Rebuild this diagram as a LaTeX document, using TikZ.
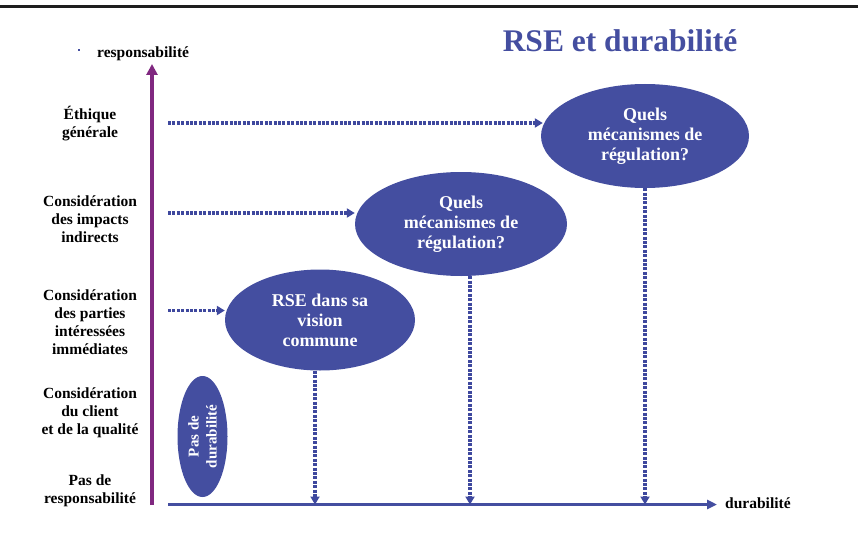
\documentclass[tikz,border=0pt]{standalone}
\usepackage{fontspec}
\setmainfont{Liberation Serif}
\usetikzlibrary{shapes.geometric,arrows.meta,calc}
\definecolor{ellblue}{RGB}{68,78,160}
\definecolor{dotblue}{RGB}{62,72,158}
\definecolor{axpurple}{RGB}{128,40,128}
\definecolor{topline}{RGB}{30,30,30}
\begin{document}
\begin{tikzpicture}[x=1pt,y=-1pt,
  bubble/.style={ellipse, fill=ellblue, text=white, inner sep=0pt,
    font=\bfseries\fontsize{18}{20}\selectfont, align=center},
  lvl/.style={font=\bfseries\fontsize{15.5}{18}\selectfont, align=center, inner sep=0pt},
  dotarrow/.style={draw=dotblue, line width=3.4pt, dash pattern=on 3pt off 1.4pt,
    -{Triangle[length=8pt,width=9pt]}},
  axlabel/.style={font=\bfseries\fontsize{15.5}{18}\selectfont, inner sep=0pt}]
\useasboundingbox (0,0) rectangle (858,532);
% top rule
\coordinate (tl) at (0,6.5);
\coordinate (tr) at (858,6.5);
\draw[topline, line width=3.5pt] (tl) -- (tr);
% title
\node[text=ellblue, font=\bfseries\fontsize{31.5}{36}\selectfont, inner sep=0pt] (title) at (620,41) {RSE et durabilit\'e};
% axes
\coordinate (o) at (152,505);
\coordinate (ytop) at (152,64);
\coordinate (xo) at (168,504.5);
\coordinate (xend) at (717,504.5);
\draw[axpurple, line width=4.5pt, -{Triangle[length=11pt,width=11pt]}] (o) -- (ytop);
\draw[ellblue, line width=3.6pt, -{Triangle[length=10pt,width=9pt]}] (xo) -- (xend);
\fill[ellblue] (78,49) rectangle (80,51);
\node[axlabel, anchor=west] (ylab) at (97,53.5) {responsabilit\'e};
\node[axlabel, anchor=west] (xlab) at (725,503) {durabilit\'e};
% level labels
\node[lvl] (l5) at (90,123.5) {\'Ethique\\g\'en\'erale};
\node[lvl] (l4) at (90,219.5) {Consid\'eration\\des impacts\\indirects};
\node[lvl] (l3) at (90,322) {Consid\'eration\\des parties\\int\'eress\'ees\\imm\'ediates};
\node[lvl] (l2) at (90,413) {Consid\'eration\\du client\\ et de la qualit\'e};
\node[lvl] (l1) at (90,491) {Pas de\\responsabilit\'e};
% ellipses
\node[ellipse, fill=ellblue, minimum width=50pt, minimum height=121pt, inner sep=0pt] (e1) at (202.5,436.5) {};
\node[rotate=90, text=white, font=\bfseries\fontsize{15}{18}\selectfont, align=center, inner sep=0pt] (t1) at (e1.center) {Pas de\\durabilit\'e};
\node[bubble, minimum width=190pt, minimum height=101pt] (e2) at (320,320) {RSE dans sa\\vision\\commune};
\node[bubble, minimum width=212pt, minimum height=104pt] (e3) at (461,224) {Quels\\m\'ecanismes de\\r\'egulation?};
\node[bubble, minimum width=208pt, minimum height=104pt] (e4) at (645,136) {Quels\\m\'ecanismes de\\r\'egulation?};
% horizontal dotted arrows
\coordinate (s4) at (168,123);
\coordinate (s3) at (168,213);
\coordinate (s2) at (168,310.5);
\draw[dotarrow] (s4) -- ($(e4.west |- s4)+(2,0)$);
\draw[dotarrow] (s3) -- (e3.west |- s3);
\draw[dotarrow] (s2) -- (e2.west |- s2);
% vertical dotted arrows
\draw[dotarrow] ([xshift=-5pt]e2.south) -- ([xshift=-5pt]e2.south |- xo);
\draw[dotarrow] ([xshift=9pt]e3.south) -- ([xshift=9pt]e3.south |- xo);
\draw[dotarrow] (e4.south) -- (e4.south |- xo);
\end{tikzpicture}
\end{document}
